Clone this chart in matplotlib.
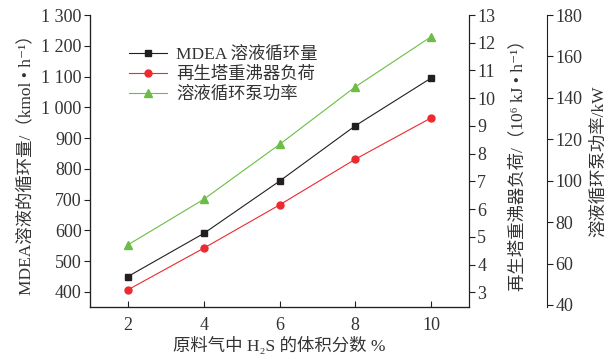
import numpy as np
import matplotlib
matplotlib.use('Agg')
import matplotlib.pyplot as plt

plt.rcParams['font.family'] = ['Liberation Serif', 'Noto Sans CJK SC', 'DejaVu Sans']

# data
h2s = [2, 4, 6, 8, 10]
mdea_flow = [450, 590, 760, 940, 1095]          # kmol/h
reboiler_duty = [3.09, 4.59, 6.15, 7.8, 9.29]   # 10^6 kJ/h
pump_power = [69, 91, 117.5, 145.3, 169.5]     # kW

x_ticks = [2, 4, 6, 8, 10]
left_ticks = [400, 500, 600, 700, 800, 900, 1000, 1100, 1200, 1300]
left_labels = ['400', '500', '600', '700', '800', '900', '1 000', '1 100', '1 200', '1 300']
right_ticks = [3, 4, 5, 6, 7, 8, 9, 10, 11, 12, 13]
far_ticks = [40, 60, 80, 100, 120, 140, 160, 180]

c_black = '#231f20'
c_red = '#ec2a2f'
c_green = '#6cbd45'
txt = '#333333'
fs = 12.5
tfs = 13

fig = plt.figure(figsize=(6.09, 3.6), dpi=100)
ax = fig.add_axes([90/609, 1-307/360, (469-90)/609, (307-15)/360])
ax2 = ax.twinx()
ax3 = ax.twinx()
ax3.spines['right'].set_position(('axes', (547-90)/(469-90)))

l1, = ax.plot(h2s, mdea_flow, '-s', color=c_black, lw=0.8, ms=5)
l2, = ax2.plot(h2s, reboiler_duty, '-o', color=c_red, lw=0.8, ms=5)
l3, = ax3.plot(h2s, pump_power, '-^', color=c_green, lw=0.8, ms=6)

ax.set_xlim(1, 11)
ax.set_ylim(351, 1300)
ax2.set_ylim(2.47, 13)
ax3.set_ylim(39, 180)

ax.set_xticks(x_ticks)
ax.set_yticks(left_ticks)
ax.set_yticklabels(left_labels)
ax2.set_yticks(right_ticks)
ax3.set_yticks(far_ticks)

for a in (ax, ax2, ax3):
    a.spines['top'].set_visible(False)
    a.tick_params(colors=c_black, labelcolor=txt, labelsize=tfs, width=0.8, length=4, pad=2)
    for s in a.spines.values():
        s.set_color(c_black)
        s.set_linewidth(0.8)
ax.tick_params(axis='x', direction='in', pad=7)

ax.set_xlabel('原料气中 H₂S 的体积分数 %', fontsize=fs, color=txt, labelpad=2)
ax.set_ylabel('MDEA溶液的循环量/（kmol • h⁻¹）', fontsize=fs, color=txt, labelpad=5)
ax2.set_ylabel('再生塔重沸器负荷/（10⁶ kJ • h⁻¹）', fontsize=fs, color=txt, labelpad=10)
ax3.set_ylabel('溶液循环泵功率/kW', fontsize=fs, color=txt, labelpad=6)

ax.legend([l1, l2, l3], ['MDEA 溶液循环量', '再生塔重沸器负荷', '溶液循环泵功率'],
          loc='upper left', bbox_to_anchor=(0.08, 0.92), frameon=False,
          fontsize=fs, handlelength=2.2, handletextpad=0.5, labelspacing=0.2,
          borderpad=0, labelcolor=txt)

fig.savefig('out.png', dpi=100)
